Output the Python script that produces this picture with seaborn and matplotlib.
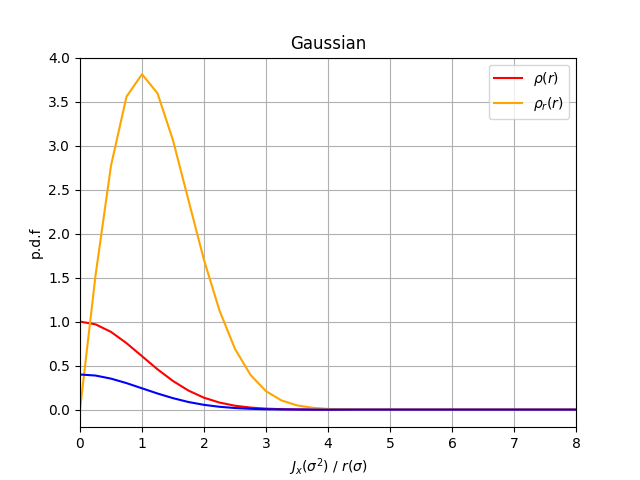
import matplotlib
matplotlib.use("Agg")
import matplotlib.pyplot as plt
import seaborn as sns

# values at r = 0, 0.25, ... 4.0, then 4.5 and 8
r = [0, 0.25, 0.5, 0.75, 1.0, 1.25, 1.5, 1.75, 2.0, 2.25, 2.5, 2.75, 3.0,
     3.25, 3.5, 3.75, 4.0, 4.5, 8.0]
rho = [1.0, 0.969, 0.883, 0.755, 0.607, 0.458, 0.325, 0.216, 0.135, 0.080,
       0.044, 0.023, 0.011, 0.005, 0.002, 0.001, 0.0, 0.0, 0.0]
rho_r = [0.0, 1.522, 2.772, 3.557, 3.811, 3.595, 3.060, 2.378, 1.700, 1.125,
         0.690, 0.394, 0.209, 0.104, 0.048, 0.021, 0.008, 0.0, 0.0]
blue = [0.399, 0.387, 0.352, 0.301, 0.242, 0.183, 0.130, 0.086, 0.054, 0.032,
        0.018, 0.009, 0.004, 0.002, 0.001, 0.0, 0.0, 0.0, 0.0]

fig, ax = plt.subplots(figsize=(6.4, 4.8), dpi=100)
sns.lineplot(x=r, y=rho, color="red", label=r"$\rho(r)$", ax=ax)
sns.lineplot(x=r, y=rho_r, color="orange", label=r"$\rho_r(r)$", ax=ax)
sns.lineplot(x=r, y=blue, color="blue", ax=ax)

ax.set_xlim(0, 8)
ax.set_ylim(-0.2, 4.0)
ax.grid(True)
ax.set_title("Gaussian")
ax.set_xlabel(r"$J_x(\sigma^2)$ / $r(\sigma)$")
ax.set_ylabel("p.d.f")
ax.legend(loc="upper right")

fig.savefig("out.png", dpi=100)
